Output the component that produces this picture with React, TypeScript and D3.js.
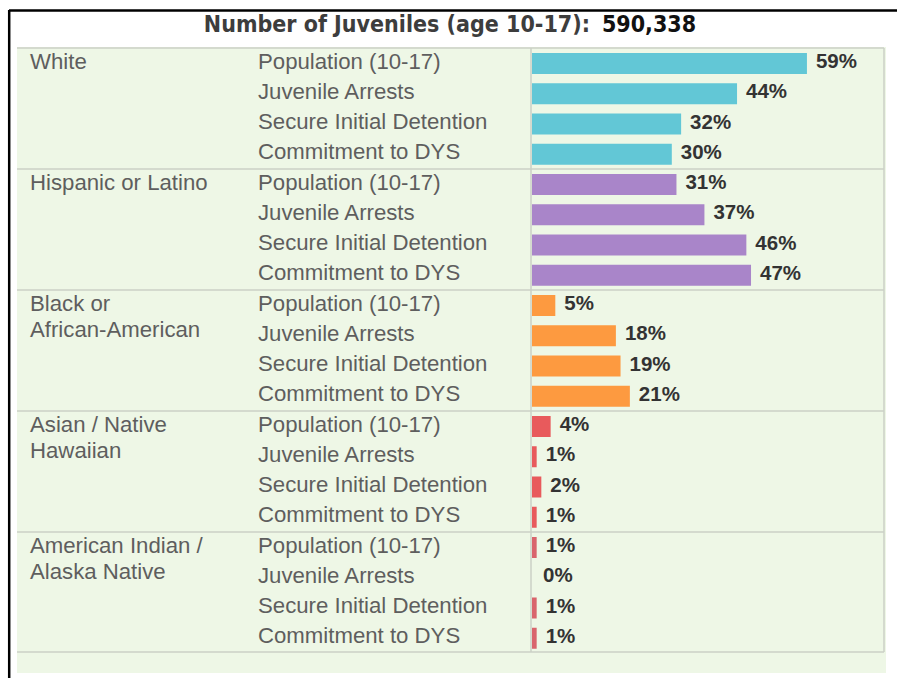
import React from "react";
import * as d3 from "d3";

const groups = ["White", "Hispanic or Latino", "Black or African-American", "Asian / Native Hawaiian", "American Indian / Alaska Native"];
const groupLines = [["White"], ["Hispanic or Latino"], ["Black or", "African-American"], ["Asian / Native", "Hawaiian"], ["American Indian /", "Alaska Native"]];
const measures = ["Population (10-17)", "Juvenile Arrests", "Secure Initial Detention", "Commitment to DYS"];
const whiteVals = [59, 44, 32, 30];
const hispanicVals = [31, 37, 46, 47];
const blackVals = [5, 18, 19, 21];
const asianVals = [4, 1, 2, 1];
const amIndVals = [1, 0, 1, 1];
const seriesVals = [whiteVals, hispanicVals, blackVals, asianVals, amIndVals];
const groupColors = ["#62c7d6", "#a985c9", "#fd9a40", "#e85a5c", "#d9646c"];
const titleText = "Number of Juveniles (age 10-17):";
const totalJuveniles = 590338;

export default function App() {
  const W = 897, H = 678;
  const left = 17, right = 884, top = 48, bottom = 653;
  const barX0 = 532;
  const x = d3.scaleLinear().domain([0, 100]).range([0, 466]);
  const gy = d3.scaleBand<string>().domain(groups).range([top, bottom]);
  const ry = d3.scaleBand<string>().domain(measures).range([0, gy.bandwidth()]);
  const font = "'Liberation Sans', Arial, sans-serif";
  const fmt = d3.format(",");
  return (
    <svg width={W} height={H} style={{ position: "absolute", left: 0, top: 0, background: "#fff" }}>
      <rect x={0} y={0} width={W} height={H} fill="#fff" />
      {/* black frame */}
      <line x1={9} y1={10.5} x2={W} y2={10.5} stroke="#000" strokeWidth={2.5} />
      <line x1={9.2} y1={10} x2={9.2} y2={H} stroke="#000" strokeWidth={2.5} />
      {/* title */}
      <text x={450} y={32} textAnchor="middle" fontFamily="'DejaVu Sans Condensed', 'DejaVu Sans', sans-serif" fontWeight="bold" fontSize={23} fill="#3d3d3d">
        <tspan>{titleText}</tspan>
        <tspan fill="#111" dx={12}>{fmt(totalJuveniles)}</tspan>
      </text>
      {/* panel background */}
      <rect x={left} y={top - 1} width={886 - left} height={673 - top + 1} fill="#eef7e6" />
      {/* grid lines */}
      {groups.map((g) => (
        <line key={g} x1={left} x2={right} y1={gy(g)!} y2={gy(g)!} stroke="#cbd0c6" strokeWidth={1.5} />
      ))}
      <line x1={left} x2={right} y1={bottom - 1} y2={bottom - 1} stroke="#cbd0c6" strokeWidth={1.5} />
      <line x1={531} x2={531} y1={top} y2={bottom - 1} stroke="#cbd0c6" strokeWidth={1.5} />
      <line x1={right} x2={right} y1={top} y2={bottom - 1} stroke="#cbd0c6" strokeWidth={1.5} />
      {groups.map((g, gi) => {
        const gTop = gy(g)!;
        return (
          <g key={g}>
            {groupLines[gi].map((ln, li) => (
              <text key={li} x={30} y={gTop + 20.5 + li * 26} fontFamily={font} fontSize={22.2} fill="#5e5e5e">{ln}</text>
            ))}
            {measures.map((m, mi) => {
              const v = seriesVals[gi][mi];
              const ry0 = gTop + ry(m)!;
              const w = x(v);
              return (
                <g key={m}>
                  <text x={258} y={ry0 + 20.5} fontFamily={font} fontSize={22.2} fill="#5e5e5e">{m}</text>
                  {v > 0 && <rect x={barX0} y={ry0 + 5} width={w} height={21} fill={groupColors[gi]} />}
                  <text x={Math.max(barX0 + w + 9, 543)} y={ry0 + 20} fontFamily={font} fontSize={20.5} fontWeight="bold" fill="#333">{`${v}%`}</text>
                </g>
              );
            })}
          </g>
        );
      })}
    </svg>
  );
}
